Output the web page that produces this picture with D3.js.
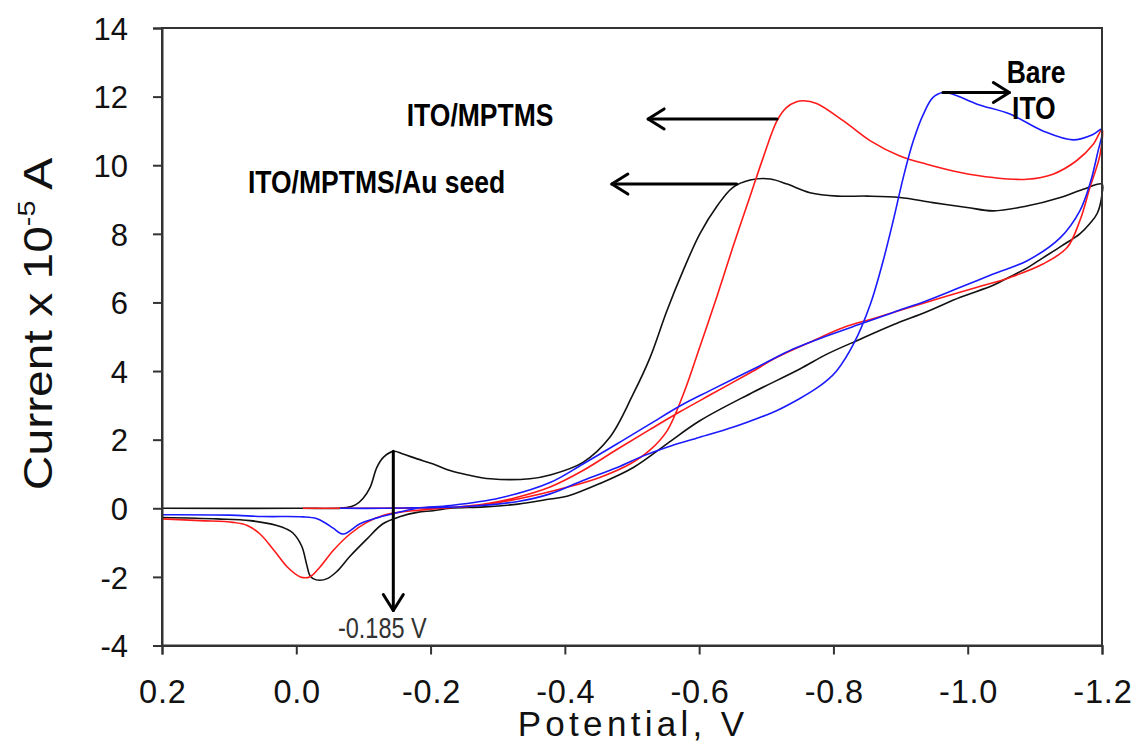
<!DOCTYPE html>
<html>
<head>
<meta charset="utf-8">
<script src="https://cdn.jsdelivr.net/npm/d3@7"></script>
<style>
  html, body { margin: 0; padding: 0; background: #fff; }
  svg { display: block; font-family: "Liberation Sans", Arial, Helvetica, sans-serif; }
</style>
</head>
<body>
<svg id="chart" width="1139" height="749"></svg>
<script>
// Cyclic voltammograms: [potential (V), current (x 1e-5 A)], forward sweep then return sweep
const bareITO = [
  [-0.065, 0.0], [-0.13, 0.0], [-0.2, 0.02], [-0.26, 0.06], [-0.33, 0.2], [-0.378, 0.42],
  [-0.427, 0.81], [-0.478, 1.19], [-0.516, 1.52], [-0.552, 1.78], [-0.601, 2.07], [-0.65, 2.36],
  [-0.7, 2.72], [-0.716, 2.85], [-0.75, 3.2], [-0.775, 3.5], [-0.79, 3.72], [-0.805, 4.01],
  [-0.83, 4.79], [-0.855, 5.95], [-0.874, 7.21], [-0.889, 8.38], [-0.904, 9.64], [-0.919, 10.71],
  [-0.934, 11.49], [-0.948, 11.97], [-0.963, 12.12], [-0.978, 12.07], [-1.014, 11.78],
  [-1.063, 11.49], [-1.112, 11.0], [-1.157, 10.74], [-1.187, 10.9], [-1.2, 11.05],
  [-1.193, 10.32], [-1.182, 9.45], [-1.167, 8.67], [-1.138, 7.89], [-1.088, 7.21], [-1.038, 6.83],
  [-0.989, 6.44], [-0.939, 6.05], [-0.889, 5.71], [-0.84, 5.37], [-0.791, 5.03], [-0.74, 4.64],
  [-0.69, 4.15], [-0.616, 3.43], [-0.572, 2.99], [-0.527, 2.46], [-0.478, 1.88], [-0.427, 1.29],
  [-0.378, 0.75], [-0.303, 0.3], [-0.229, 0.08], [-0.18, 0.0], [-0.144, -0.16], [-0.12, -0.28],
  [-0.095, -0.45], [-0.07, -0.75], [-0.055, -0.58], [-0.045, -0.45], [-0.03, -0.3],
  [-0.01, -0.25], [0.05, -0.24], [0.1, -0.2], [0.2, -0.19]
];

const itoMptms = [
  [-0.01, 0.0], [-0.1, 0.0], [-0.2, 0.02], [-0.26, 0.06], [-0.33, 0.27], [-0.403, 0.61],
  [-0.452, 0.9], [-0.497, 1.29], [-0.527, 1.7], [-0.552, 2.25], [-0.576, 3.3], [-0.601, 4.7],
  [-0.627, 6.2], [-0.65, 7.6], [-0.676, 9.1], [-0.695, 10.2], [-0.716, 11.3], [-0.73, 11.68],
  [-0.745, 11.85], [-0.755, 11.88], [-0.775, 11.8], [-0.815, 11.29], [-0.855, 10.71],
  [-0.899, 10.27], [-0.939, 10.03], [-0.989, 9.79], [-1.038, 9.64], [-1.088, 9.59],
  [-1.127, 9.74], [-1.162, 10.13], [-1.187, 10.61], [-1.2, 11.05],
  [-1.197, 10.3], [-1.182, 9.35], [-1.167, 8.38], [-1.148, 7.6], [-1.112, 7.12], [-1.063, 6.73],
  [-1.014, 6.44], [-0.963, 6.15], [-0.914, 5.86], [-0.865, 5.56], [-0.815, 5.27], [-0.765, 4.84],
  [-0.716, 4.4], [-0.676, 3.95], [-0.616, 3.3], [-0.572, 2.82], [-0.527, 2.3], [-0.478, 1.72],
  [-0.427, 1.1], [-0.378, 0.62], [-0.329, 0.32], [-0.28, 0.12], [-0.229, 0.02], [-0.18, -0.06],
  [-0.159, -0.1], [-0.129, -0.21], [-0.105, -0.41], [-0.08, -0.75], [-0.055, -1.23],
  [-0.035, -1.72], [-0.02, -2.0], [-0.006, -2.0], [0.013, -1.72], [0.033, -1.23], [0.054, -0.75],
  [0.073, -0.5], [0.094, -0.41], [0.143, -0.36], [0.2, -0.31]
];

const itoMptmsAuSeed = [
  [0.2, 0.0], [0.0, 0.0], [-0.075, 0.02], [-0.088, 0.1], [-0.099, 0.28], [-0.11, 0.61],
  [-0.12, 1.19], [-0.13, 1.49], [-0.145, 1.66], [-0.159, 1.58], [-0.18, 1.44], [-0.204, 1.29],
  [-0.229, 1.1], [-0.254, 0.98], [-0.289, 0.86], [-0.348, 0.86], [-0.378, 0.97], [-0.427, 1.34],
  [-0.467, 2.07], [-0.502, 3.34], [-0.527, 4.4], [-0.552, 5.76], [-0.576, 6.92], [-0.601, 8.0],
  [-0.627, 8.82], [-0.65, 9.35], [-0.676, 9.57], [-0.706, 9.6], [-0.731, 9.45], [-0.765, 9.2],
  [-0.806, 9.1], [-0.85, 9.1], [-0.899, 9.06], [-0.948, 8.91], [-0.999, 8.77], [-1.038, 8.67],
  [-1.088, 8.81], [-1.138, 9.06], [-1.172, 9.3], [-1.2, 9.45],
  [-1.2, 9.16], [-1.193, 8.6], [-1.182, 8.3], [-1.167, 8.0], [-1.14, 7.65], [-1.112, 7.3],
  [-1.088, 7.0], [-1.063, 6.75], [-1.038, 6.5], [-0.989, 6.15], [-0.939, 5.73], [-0.889, 5.35],
  [-0.84, 4.93], [-0.791, 4.5], [-0.75, 4.06], [-0.676, 3.34], [-0.601, 2.55], [-0.552, 1.88],
  [-0.502, 1.19], [-0.452, 0.72], [-0.403, 0.35], [-0.378, 0.27], [-0.33, 0.12], [-0.28, 0.04],
  [-0.229, 0.0], [-0.204, -0.07], [-0.18, -0.12], [-0.155, -0.24], [-0.129, -0.45],
  [-0.105, -0.9], [-0.08, -1.4], [-0.06, -1.85], [-0.046, -2.05], [-0.035, -2.1],
  [-0.025, -2.05], [-0.02, -1.95], [-0.015, -1.6], [-0.008, -1.1], [0.005, -0.72],
  [0.015, -0.6], [0.029, -0.5], [0.069, -0.36], [0.118, -0.31], [0.2, -0.27]
];

// Axis ticks and labels
const xTicks = [0.2, 0.0, -0.2, -0.4, -0.6, -0.8, -1.0, -1.2];
const xTickLabels = ["0.2", "0.0", "-0.2", "-0.4", "-0.6", "-0.8", "-1.0", "-1.2"];
const yTicks = [-4, -2, 0, 2, 4, 6, 8, 10, 12, 14];
const yTickLabels = ["-4", "-2", "0", "2", "4", "6", "8", "10", "12", "14"];

// Series draw order and colours
const seriesNames = ["ITO/MPTMS/Au seed", "ITO/MPTMS", "Bare ITO"];
const seriesColors = ["#111111", "#ff1a1a", "#1a1aff"];
const seriesData = [itoMptmsAuSeed, itoMptms, bareITO];

// Annotations: [potential, current] anchors
const peakLabels = [
  { text: "ITO/MPTMS", at: [-0.1645, 11.15] },
  { text: "ITO/MPTMS/Au seed", at: [0.072, 9.2] },
  { text: "Bare", at: [-1.058, 12.41] },
  { text: "ITO", at: [-1.066, 11.35] }
];
const peakArrows = [
  { from: [-0.716, 11.35], to: [-0.524, 11.35] },
  { from: [-0.656, 9.45], to: [-0.470, 9.45] },
  { from: [-0.963, 12.12], to: [-1.062, 12.12] },
  { from: [-0.1445, 1.66], to: [-0.1445, -2.98] }
];
const potentialNote = { text: "-0.185 V", at: [-0.062, -3.77] };

(function draw() {
  const svg = d3.select("#chart");
  const W = 1139, H = 749;
  const mLeft = 162, mRight = 1102, mTop = 28, mBottom = 645.5;

  svg.append("rect").attr("width", W).attr("height", H).attr("fill", "#fff");

  const x = d3.scaleLinear().domain([0.2, -1.2]).range([mLeft, mRight]);
  const y = d3.scaleLinear().domain([-4, 14]).range([mBottom, mTop]);

  // Curves
  const line = d3.line()
    .x(d => x(d[0]))
    .y(d => y(d[1]))
    .curve(d3.curveCatmullRom.alpha(0.5));

  svg.append("g").selectAll("path")
    .data(seriesData)
    .join("path")
    .attr("d", line)
    .attr("fill", "none")
    .attr("stroke", (d, i) => seriesColors[i])
    .attr("stroke-width", 1.6)
    .attr("stroke-linejoin", "round");

  // Frame
  svg.append("rect")
    .attr("x", mLeft).attr("y", mTop)
    .attr("width", mRight - mLeft).attr("height", mBottom - mTop)
    .attr("fill", "none").attr("stroke", "#333").attr("stroke-width", 2);

  // Y axis
  const yAxis = svg.append("g")
    .attr("transform", `translate(${mLeft},0)`)
    .call(d3.axisLeft(y).tickValues(yTicks).tickSize(9).tickPadding(25)
      .tickFormat((d, i) => yTickLabels[i]));
  yAxis.select(".domain").attr("stroke", "#333").attr("stroke-width", 2);
  yAxis.selectAll(".tick line").attr("stroke", "#333").attr("stroke-width", 2);
  yAxis.selectAll(".tick text")
    .attr("font-size", 31).attr("fill", "#111")
    .attr("font-family", "'Liberation Sans', Arial, sans-serif")
    .attr("dy", "0.36em");

  // X axis
  const xAxis = svg.append("g")
    .attr("transform", `translate(0,${mBottom})`)
    .call(d3.axisBottom(x).tickValues(xTicks).tickSize(9)
      .tickFormat((d, i) => xTickLabels[i]));
  xAxis.select(".domain").attr("stroke", "#333").attr("stroke-width", 2);
  xAxis.selectAll(".tick line").attr("stroke", "#333").attr("stroke-width", 2);
  xAxis.selectAll(".tick text")
    .attr("font-size", 32.5).attr("fill", "#111")
    .attr("font-family", "'Liberation Sans', Arial, sans-serif")
    .attr("letter-spacing", 0.8)
    .attr("y", 57.5).attr("dy", 0).attr("dx", 0.4);

  // Axis titles
  const yTitle = svg.append("text")
    .attr("transform", "translate(52,324) rotate(-90) scale(1.2,1)")
    .attr("text-anchor", "middle")
    .attr("font-size", 40)
    .attr("fill", "#111");
  yTitle.append("tspan").text("Current x 10");
  yTitle.append("tspan").attr("font-size", 24).attr("dy", -17).text("-5");
  yTitle.append("tspan").attr("dy", 17).text(" A");

  svg.append("text")
    .attr("x", 633).attr("y", 736)
    .attr("text-anchor", "middle")
    .attr("font-size", 35)
    .attr("letter-spacing", 4.3)
    .attr("fill", "#111")
    .text("Potential, V");

  // Peak labels
  svg.append("g").selectAll("text")
    .data(peakLabels)
    .join("text")
    .attr("transform", d => `translate(${x(d.at[0])},${y(d.at[1])}) scale(1,1.2)`)
    .attr("font-size", 26.5)
    .attr("font-weight", "bold")
    .attr("fill", "#000")
    .text(d => d.text);

  // Arrows with open heads
  const arrowG = svg.append("g").attr("stroke", "#000").attr("stroke-width", 3)
    .attr("fill", "none").attr("stroke-linecap", "round").attr("stroke-linejoin", "round");
  peakArrows.forEach(a => {
    const x1 = x(a.from[0]), y1 = y(a.from[1]);
    const x2 = x(a.to[0]), y2 = y(a.to[1]);
    const ang = Math.atan2(y2 - y1, x2 - x1);
    const len = 16, half = 10;
    const bx = x2 - len * Math.cos(ang), by = y2 - len * Math.sin(ang);
    const px = -Math.sin(ang) * half, py = Math.cos(ang) * half;
    arrowG.append("line").attr("x1", x1).attr("y1", y1).attr("x2", x2).attr("y2", y2);
    arrowG.append("polyline")
      .attr("points", `${bx + px},${by + py} ${x2},${y2} ${bx - px},${by - py}`);
  });

  // Potential note
  svg.append("text")
    .attr("transform", `translate(${x(potentialNote.at[0])},${y(potentialNote.at[1])}) scale(1,1.27)`)
    .attr("font-size", 23.5)
    .attr("fill", "#333")
    .text(potentialNote.text);
})();
</script>
</body>
</html>
